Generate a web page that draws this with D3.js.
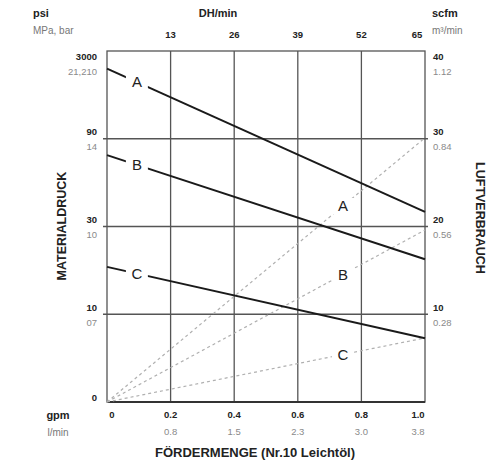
<!DOCTYPE html>
<html><head><meta charset="utf-8">
<script src="https://cdn.jsdelivr.net/npm/d3@7/dist/d3.min.js"></script>
<style>body{margin:0;background:#fff}svg{display:block;font-family:"Liberation Sans",Arial,sans-serif}</style>
</head><body><svg id="c" width="489" height="467"></svg>
<script>
// ---- data ----
const gpmTicks = [0, 0.2, 0.4, 0.6, 0.8, 1.0];
const gpmLabels = ["0", "0.2", "0.4", "0.6", "0.8", "1.0"];
const lpmLabels = ["", "0.8", "1.5", "2.3", "3.0", "3.8"];
const dhLabels = ["", "13", "26", "39", "52", "65"];
const psiTicks = [0, 750, 1500, 2250, 3000];
const psiLabels = ["0", "10", "30", "90", "3000"];
const mpaLabels = ["", "07", "10", "14", "21,210"];
const scfmTicks = [10, 20, 30, 40];
const scfmLabels = ["10", "20", "30", "40"];
const m3Labels = ["0.28", "0.56", "0.84", "1.12"];
const flow = [0, 1.0];
const pressureA = [2850, 1625];
const pressureB = [2110, 1220];
const pressureC = [1155, 545];
const airA = [0, 30.1];
const airB = [0, 19.6];
const airC = [0, 7.3];
const curveNames = ["A", "B", "C"];

// ---- layout ----
const L = 107, R = 425, T = 51, B = 402;
const x = d3.scaleLinear().domain([0, 1]).range([L, R]);
const yP = d3.scaleLinear().domain([0, 3000]).range([B, T]);
const yA = d3.scaleLinear().domain([0, 40]).range([B, T]);
const svg = d3.select("#c");

// grid
const g = svg.append("g").attr("stroke", "#555").attr("stroke-width", 1.3);
g.selectAll(".v").data(gpmTicks.slice(1, -1)).join("line")
  .attr("x1", d => x(d)).attr("x2", d => x(d)).attr("y1", T).attr("y2", B);
g.selectAll(".h").data(psiTicks.slice(1, -1)).join("line")
  .attr("x1", L - 4).attr("x2", R + 3).attr("y1", d => yP(d)).attr("y2", d => yP(d));
svg.append("rect").attr("x", L).attr("y", T).attr("width", R - L).attr("height", B - T)
  .attr("fill", "none").attr("stroke", "#555").attr("stroke-width", 1.3);
svg.append("line").attr("x1", L).attr("x2", R).attr("y1", B).attr("y2", B)
  .attr("stroke", "#333").attr("stroke-width", 2.2);

// air lines (dashed)
const lineFn = (ys, ysc) => d3.line().x((d, i) => x(flow[i])).y(d => ysc(d))(ys);
const airs = [airA, airB, airC];
airs.forEach(a => {
  svg.append("path").attr("d", lineFn(a, yA)).attr("fill", "none")
    .attr("stroke", "#b0b0b0").attr("stroke-width", 1.2).attr("stroke-dasharray", "3,3");
});
// pressure lines
const press = [pressureA, pressureB, pressureC];
press.forEach(p => {
  svg.append("path").attr("d", lineFn(p, yP)).attr("fill", "none")
    .attr("stroke", "#1a1a1a").attr("stroke-width", 2);
});

// curve labels with white gap
function label(px, py, t) {
  svg.append("rect").attr("x", px - 11).attr("y", py - 8).attr("width", 22).attr("height", 16).attr("fill", "#fff");
  svg.append("text").attr("x", px).attr("y", py).attr("dy", "0.36em").attr("text-anchor", "middle")
    .attr("font-size", 15).attr("fill", "#222").text(t);
}
const fP = 0.094, fA = 0.742;
press.forEach((p, i) => {
  const v = p[0] + (p[1] - p[0]) * fP / flow[1];
  label(x(fP), yP(v), curveNames[i]);
});
airs.forEach((a, i) => {
  const v = a[0] + (a[1] - a[0]) * fA / flow[1];
  label(x(fA), yA(v), curveNames[i]);
});

// axis text
const txt = (xx, yy, t, opt = {}) => svg.append("text").attr("x", xx).attr("y", yy).attr("dy", "0.35em")
  .attr("text-anchor", opt.a || "middle").attr("font-size", opt.s || 9.5)
  .attr("font-weight", opt.w || "normal").attr("fill", opt.c || "#222").text(t);

// left axis
psiTicks.forEach((d, i) => {
  let yy = yP(d);
  if (i === psiTicks.length - 1) yy += 13;
  if (i === 0) { txt(L - 10, yy - 4, psiLabels[i], {a: "end", w: "bold"}); return; }
  txt(L - 10, yy - 7, psiLabels[i], {a: "end", w: "bold"});
  txt(L - 10, yy + 8, mpaLabels[i], {a: "end", c: "#8a8a8a"});
});
// right axis
scfmTicks.forEach((d, i) => {
  let yy = yA(d);
  if (i === scfmTicks.length - 1) yy += 13;
  txt(R + 8, yy - 7, scfmLabels[i], {a: "start", w: "bold"});
  txt(R + 8, yy + 8, m3Labels[i], {a: "start", c: "#8a8a8a"});
});
// top axis
gpmTicks.forEach((d, i) => {
  if (!dhLabels[i]) return;
  const xx = x(d) - (i === gpmTicks.length - 1 ? 8 : 0);
  txt(xx, 35, dhLabels[i], {w: "bold"});
});
// bottom axis
gpmTicks.forEach((d, i) => {
  const xx = x(d) + (i === 0 ? 5 : 0) - (i === gpmTicks.length - 1 ? 7 : 0);
  txt(xx, 415, gpmLabels[i], {w: "bold"});
  if (lpmLabels[i]) txt(xx, 432, lpmLabels[i], {c: "#8a8a8a"});
});

// unit headers
txt(33, 13, "psi", {a: "start", w: "bold", s: 11});
txt(33, 30, "MPa, bar", {a: "start", c: "#777", s: 10});
txt(218, 13, "DH/min", {w: "bold", s: 11});
txt(432, 13, "scfm", {a: "start", w: "bold", s: 11});
txt(432, 30, "m³/min", {a: "start", c: "#777", s: 10});
txt(58, 415, "gpm", {w: "bold", s: 11});
txt(58, 432, "l/min", {c: "#777", s: 10});

// titles
txt(255, 452, "FÖRDERMENGE (Nr.10 Leichtöl)", {w: "bold", s: 13});
svg.append("text").attr("transform", "translate(62,226) rotate(-90)").attr("text-anchor", "middle")
  .attr("dy", "0.35em").attr("font-size", 12.5).attr("font-weight", "bold").attr("fill", "#222").text("MATERIALDRUCK");
svg.append("text").attr("transform", "translate(480,218) rotate(90)").attr("text-anchor", "middle")
  .attr("dy", "0.35em").attr("font-size", 12.5).attr("font-weight", "bold").attr("fill", "#222").text("LUFTVERBRAUCH");
</script></body></html>
